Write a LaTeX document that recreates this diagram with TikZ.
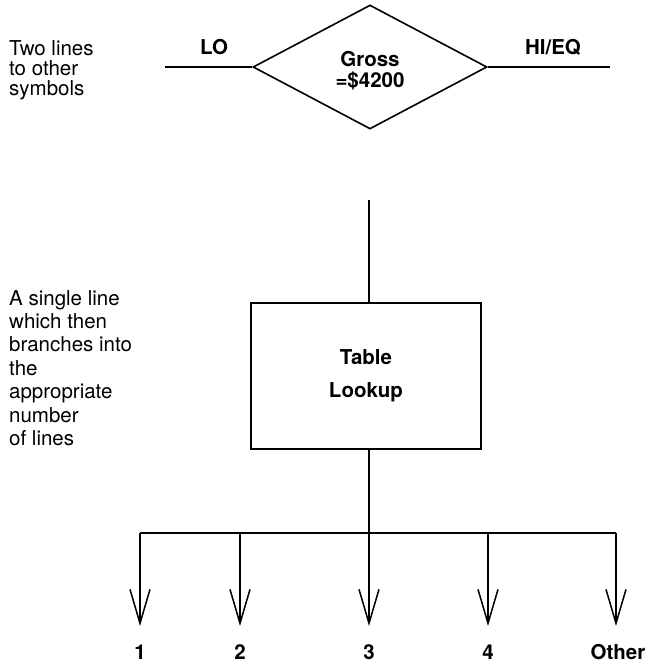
\documentclass[tikz,border=0pt]{standalone}
\usepackage{fontspec}
\setmainfont{TeX Gyre Heros}
\usetikzlibrary{shapes.geometric,arrows.meta}
\begin{document}
\begin{tikzpicture}[x=1pt,y=-1pt,
  line/.style={line width=1.6pt,black},
  arr/.style={line, -{Straight Barb[length=34pt,width=20pt,line width=1.5pt]}},
  lbl/.style={font=\fontsize{20.5}{20}\selectfont\bfseries},
  endlbl/.style={lbl, inner sep=1pt},
  note/.style={font=\fontsize{20.5}{20}\selectfont, align=left, anchor=north west, inner sep=0pt}]
\useasboundingbox (0,0) rectangle (649,665);
% diamond
\node[line, draw, diamond, aspect=1.89, minimum width=234pt, minimum height=124pt, inner sep=0pt] (dec) at (370,67) {};
\node[lbl, align=center, font=\fontsize{20.5}{21}\selectfont\bfseries] (dectext) at (370,71) {Gross\\=\$4200};
\coordinate (lo) at (165,67);
\coordinate (hi) at (610,67);
\draw[line] (lo) -- (dec.west);
\draw[line] (dec.east) -- (hi);
\node[lbl] (lolbl) at (214,47) {LO};
\node[lbl] (hilbl) at (553,47) {HI/EQ};
% notes
\node[note] (n1) at (9,40) {Two lines\\to other\\symbols};
\node[note, font=\fontsize{20.5}{23.4}\selectfont] (n2) at (9,290) {A single line\\which then\\branches into\\the\\appropriate\\number\\of lines};
% box
\coordinate (in) at (369,200);
\node[line, draw, rectangle, minimum width=230pt, minimum height=146pt, inner sep=0pt,
  align=center, font=\fontsize{20.5}{33}\selectfont\bfseries] (box) at (366,376) {Table\\Lookup};
\draw[line] (in) -- (box.north -| in);
% branches
\coordinate (br) at (369,533);
\draw[line] (box.south -| br) -- (br);
\coordinate (b1) at (140,533);
\coordinate (b2) at (240,533);
\coordinate (b3) at (369,533);
\coordinate (b4) at (488,533);
\coordinate (b5) at (616,533);
\draw[line] (b1) -- (b5);
\coordinate (t1) at (140,626);
\coordinate (t2) at (240,626);
\coordinate (t3) at (369,626);
\coordinate (t4) at (488,626);
\coordinate (t5) at (616,626);
\foreach \i in {1,...,5} { \draw[arr] (b\i) -- (t\i); }
\node[endlbl] (l1) at (140,652) {1};
\node[endlbl] (l2) at (240,652) {2};
\node[endlbl] (l3) at (369,652) {3};
\node[endlbl] (l4) at (488,652) {4};
\node[endlbl] (l5) at (618,652) {Other};
\end{tikzpicture}
\end{document}
